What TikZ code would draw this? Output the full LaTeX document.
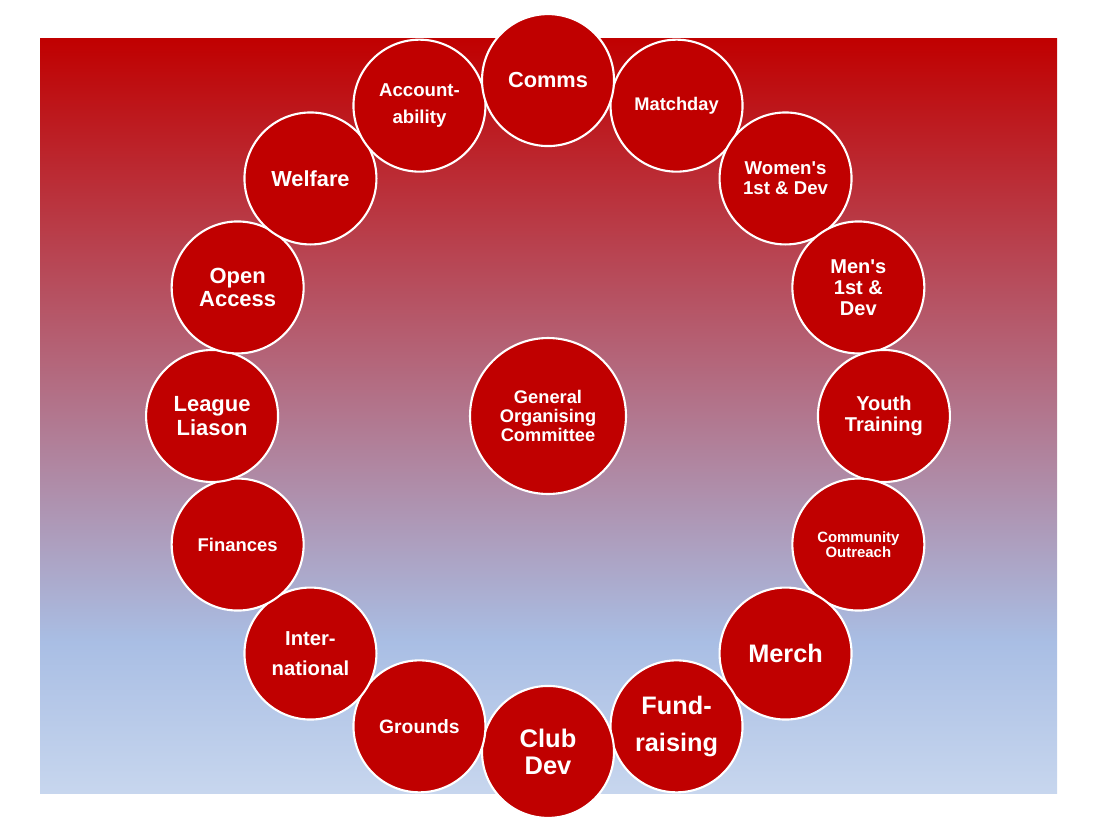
\documentclass[tikz,border=0pt]{standalone}
\usepackage{fontspec}
\setmainfont{Liberation Sans}
\definecolor{clubred}{HTML}{C00000}
\definecolor{skyblue}{HTML}{A9BEE4}
\definecolor{paleblue}{HTML}{C7D6EE}
\pgfdeclareverticalshading{clubfade}{100bp}{color(0bp)=(paleblue); color(25bp)=(paleblue); color(35bp)=(skyblue); color(75bp)=(clubred); color(100bp)=(clubred)}
\tikzset{
	team/.style={circle, minimum size=2.64cm, inner sep=0pt, align=center, fill=clubred, draw=white, line width=1.2pt, text=white},
	hub/.style={team, minimum size=3.12cm}
}
\begin{document}
\begin{tikzpicture}[x=0.02cm, y=-0.02cm]
	\useasboundingbox (0,0) rectangle (1098,835);
	\shade[shading=clubfade] (40,38) rectangle (1057,793);
	
	\node[hub, font=\bfseries\fontsize{10.4pt}{11pt}\selectfont] (gc) at (548,416) {General\\Organising\\Committee};
	
	\foreach \a/\n/\s/\b/\t in {
		67.5/matchday/10.4/11/{Matchday},
		45/womens/10.6/11.3/{Women\textquotesingle s\\1st \& Dev},
		22.5/mens/11.4/11.9/{Men\textquotesingle s\\1st \&\\Dev},
		0/youth/11.4/11.9/{Youth\\Training},
		-22.5/outreach/8.5/8.6/{Community\\Outreach},
		-45/merch/14.4/15/{Merch},
		-67.5/fundraising/14.4/21/{Fund-\\raising},
		-90/clubdev/14.5/15.3/{Club\\Dev},
		-112.5/grounds/11/11.5/{Grounds},
		-135/international/11.5/17/{Inter-\\national},
		-157.5/finances/10.5/11/{Finances},
		180/league/12.5/13.6/{League\\Liason},
		157.5/openaccess/12.5/13/{Open\\Access},
		135/welfare/12.4/13/{Welfare},
		112.5/accountability/10.6/15.3/{Account-\\ability},
		90/comms/12.4/13/{Comms}}
	{
		\node[team, font=\bfseries\fontsize{\s pt}{\b pt}\selectfont] (\n) at ([shift={(\a:6.72cm)}]gc.center) {\t};
	}
\end{tikzpicture}
\end{document}
